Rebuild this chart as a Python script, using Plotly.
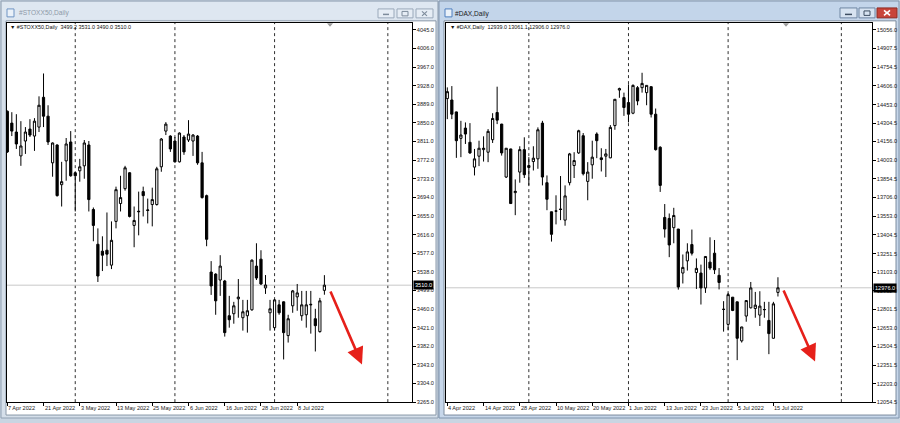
import plotly.graph_objects as go

W, H = 900, 423

# ---------------- STOXX50 daily (left window) ----------------
stoxx_open = [3874.4, 3849.5, 3830.8, 3780.8, 3812.0, 3837.0, 3822.4, 3841.2, 3903.6, 3864.0,
              3766.3, 3803.7, 3720.5, 3770.4, 3810.0, 3745.5, 3749.6, 3760.0, 3803.7, 3668.5,
              3595.7, 3581.2, 3583.2, 3552.0, 3643.6, 3681.0, 3712.2, 3745.5, 3635.2, 3665.0,
              3706.0, 3666.4, 3678.9, 3678.9, 3758.0, 3832.8, 3822.4, 3812.0, 3768.4, 3820.4,
              3814.1, 3812.0, 3822.4, 3766.3, 3697.6, 3537.5, 3533.2, 3520.8, 3518.8, 3446.0,
              3450.2, 3481.4, 3441.8, 3446.0, 3458.4, 3550.0, 3564.5, 3504.2, 3452.2, 3421.0,
              3468.8, 3475.1, 3404.4, 3466.8, 3485.5, 3446.0, 3448.0, 3470.0, 3439.7, 3412.7,
              3499.2]
stoxx_high = [3876.0, 3872.4, 3868.2, 3853.6, 3841.2, 3857.8, 3859.9, 3905.6, 3953.5, 3886.9,
              3809.0, 3805.0, 3768.4, 3818.3, 3832.8, 3747.0, 3774.6, 3814.1, 3812.0, 3672.7,
              3629.0, 3612.4, 3662.3, 3643.6, 3716.4, 3739.2, 3760.0, 3747.0, 3674.8, 3706.0,
              3716.4, 3691.4, 3714.3, 3758.0, 3818.3, 3851.6, 3824.0, 3820.4, 3830.0, 3824.5,
              3855.7, 3826.6, 3824.5, 3789.2, 3699.7, 3560.4, 3535.0, 3572.8, 3521.0, 3487.6,
              3475.1, 3522.9, 3479.2, 3479.2, 3564.0, 3597.8, 3583.2, 3531.2, 3479.2, 3481.0,
              3479.2, 3476.0, 3448.0, 3500.0, 3512.5, 3498.0, 3498.0, 3498.0, 3460.5, 3483.4,
              3531.0]
stoxx_low = [3787.0, 3822.4, 3795.4, 3760.0, 3785.0, 3820.4, 3791.3, 3830.8, 3841.2, 3803.7,
             3737.2, 3695.6, 3674.8, 3728.8, 3737.2, 3664.4, 3726.8, 3733.0, 3664.4, 3602.0,
             3516.7, 3539.6, 3550.0, 3543.7, 3629.0, 3664.4, 3708.0, 3651.9, 3589.5, 3614.4,
             3654.0, 3639.4, 3633.2, 3676.8, 3747.6, 3824.5, 3789.2, 3767.0, 3767.0, 3783.0,
             3810.0, 3780.8, 3762.2, 3691.4, 3591.6, 3489.6, 3448.0, 3487.6, 3402.3, 3421.0,
             3429.3, 3441.8, 3414.8, 3410.6, 3456.4, 3520.8, 3510.4, 3491.7, 3414.8, 3414.8,
             3448.0, 3354.4, 3389.8, 3452.2, 3456.4, 3435.6, 3421.0, 3408.5, 3371.1, 3410.6,
             3490.0]
stoxx_close = [3789.2, 3832.8, 3805.8, 3801.6, 3830.8, 3824.5, 3853.6, 3886.9, 3864.0, 3810.0,
               3807.9, 3697.6, 3726.8, 3805.8, 3739.2, 3739.2, 3758.0, 3807.9, 3689.3, 3635.2,
               3529.2, 3572.8, 3575.0, 3604.0, 3710.1, 3693.5, 3755.9, 3654.0, 3645.6, 3664.0,
               3697.6, 3667.5, 3689.3, 3753.8, 3816.2, 3847.4, 3795.4, 3768.4, 3828.7, 3789.2,
               3826.6, 3824.5, 3766.3, 3693.5, 3606.1, 3508.4, 3477.2, 3550.0, 3410.6, 3437.6,
               3466.8, 3485.0, 3454.3, 3456.4, 3562.4, 3525.0, 3512.5, 3510.4, 3460.5, 3479.2,
               3452.2, 3410.6, 3439.7, 3498.0, 3493.8, 3468.8, 3468.8, 3469.0, 3425.2, 3477.2,
               3510.0]
stoxx_date_labels = ["7 Apr 2022", "21 Apr 2022", "3 May 2022", "13 May 2022", "25 May 2022",
                     "6 Jun 2022", "16 Jun 2022", "28 Jun 2022", "8 Jul 2022"]
stoxx_date_idx = [0, 8, 16, 24, 32, 40, 48, 56, 64]
stoxx_price_ticks = [4045.0, 4006.0, 3967.0, 3928.0, 3889.0, 3850.0, 3811.0, 3772.0, 3733.0, 3694.0,
                     3655.0, 3616.0, 3577.0, 3538.0, 3499.0, 3460.0, 3421.0, 3382.0, 3343.0, 3304.0,
                     3265.0]
stoxx_separators = [15, 37, 59, 84]
stoxx_yrange = [3265.0, 4060.2]
stoxx_xrange = [-0.13, 89.27]
stoxx_arrow = [71.2, 3500.0, 78.3, 3344.0]   # tail x, tail y, head x, head y

# ---------------- DAX daily (right window) ----------------
dax_open = [14501.3, 14490.1, 14394.0, 14181.1, 14263.6, 14149.1, 13949.0, 14037.1, 14089.9, 14069.1,
            14169.9, 14389.2, 14295.6, 13869.0, 14095.5, 13743.3, 13909.0, 14089.9, 13945.8, 13993.8,
            14015.5, 14303.6, 13823.4, 13588.8, 13596.0, 13611.0, 13521.6, 13823.4, 13961.8, 14063.5,
            14202.0, 13833.8, 13967.4, 14215.6, 14023.5, 14037.1, 14023.5, 14283.6, 14570.1, 14509.3,
            14469.3, 14383.6, 14589.3, 14589.3, 14549.3, 14597.4, 14375.6, 14109.1, 13543.2, 13535.2,
            13460.8, 13449.6, 13095.0, 13193.4, 13324.7, 13099.0, 13095.0, 12974.9, 13183.0, 13255.1,
            13076.6, 12801.3, 12681.2, 12900.5, 12862.9, 12548.3, 12748.4, 12814.9, 12809.3, 12756.4,
            12801.3, 12713.2, 12569.2, 12939.0]
dax_high = [14591.7, 14602.2, 14396.0, 14322.0, 14309.2, 14303.6, 14095.5, 14161.9, 14197.2, 14255.6,
            14383.6, 14597.4, 14298.0, 14103.0, 14097.0, 13849.8, 14117.1, 14189.2, 14029.1, 14117.1,
            14269.2, 14322.0, 13881.8, 13590.0, 13721.7, 13877.0, 13801.7, 14063.5, 14069.1, 14250.0,
            14223.6, 13989.0, 14161.9, 14229.2, 14101.1, 14095.5, 14287.6, 14497.0, 14589.3, 14549.3,
            14615.8, 14615.8, 14602.2, 14709.4, 14609.0, 14599.0, 14421.3, 14117.1, 13651.3, 13575.2,
            13620.9, 13451.0, 13244.7, 13335.1, 13445.6, 13212.7, 13163.0, 13230.0, 13383.1, 13361.5,
            13135.0, 12868.5, 12934.9, 12902.0, 12864.0, 12662.0, 12875.0, 13023.0, 12942.9, 12948.5,
            12862.9, 12862.9, 12862.9, 13061.1]
dax_low = [14335.6, 14335.6, 14023.5, 14029.1, 14135.5, 14055.5, 13881.8, 13957.0, 13993.8, 13989.0,
           14143.5, 14295.6, 14041.9, 13861.0, 13653.0, 13561.6, 13823.4, 13861.0, 13801.7, 13921.8,
           13935.4, 13801.7, 13601.7, 13348.7, 13487.2, 13521.6, 13476.8, 13801.7, 13861.0, 14055.5,
           13881.8, 13681.7, 13855.4, 14021.1, 13913.8, 13869.0, 14021.1, 14250.0, 14507.7, 14362.0,
           14309.2, 14375.6, 14447.7, 14549.3, 14447.7, 14349.2, 14081.9, 13748.9, 13380.7, 13223.1,
           13335.1, 12961.3, 13011.0, 13115.0, 13236.7, 12966.9, 12841.3, 12934.9, 13119.0, 13087.0,
           12963.0, 12622.8, 12633.1, 12788.0, 12393.0, 12534.7, 12702.8, 12809.3, 12734.8, 12668.4,
           12734.8, 12441.1, 12567.0, 12906.0]
dax_close = [14557.3, 14375.6, 14161.9, 14207.6, 14215.6, 14063.5, 14015.5, 14101.1, 14101.1, 14237.2,
             14341.2, 14327.6, 14063.5, 14101.1, 13655.3, 13753.7, 14089.9, 13887.4, 13961.8, 14021.1,
             14250.0, 13869.0, 13689.7, 13407.2, 13594.0, 13608.0, 13716.9, 14055.5, 14001.9, 14242.0,
             13895.4, 13909.0, 14029.1, 14161.9, 14009.9, 14055.5, 14269.2, 14495.7, 14581.3, 14429.3,
             14375.6, 14607.8, 14482.1, 14623.8, 14607.8, 14375.6, 14089.9, 13801.7, 13449.6, 13321.5,
             13559.2, 12982.9, 13140.6, 13265.5, 13255.1, 13132.6, 12974.9, 13228.7, 13135.0, 13121.4,
             13019.0, 12803.0, 12921.3, 12793.2, 12569.2, 12660.4, 12873.3, 12974.9, 12836.5, 12828.5,
             12800.0, 12606.8, 12846.9, 12976.0]
dax_date_labels = ["4 Apr 2022", "14 Apr 2022", "28 Apr 2022", "10 May 2022", "20 May 2022",
                   "1 Jun 2022", "13 Jun 2022", "23 Jun 2022", "5 Jul 2022", "15 Jul 2022"]
dax_date_idx = [0, 8, 16, 24, 32, 40, 48, 56, 64, 72]
dax_price_ticks = [15056.0, 14907.5, 14754.5, 14606.0, 14453.0, 14304.5, 14156.0, 14003.0, 13854.5,
                   13706.0, 13553.0, 13404.5, 13251.5, 13103.0, 12952.0, 12801.5, 12653.0, 12504.5,
                   12351.5, 12203.0, 12054.5]
dax_separators = [18, 40, 62, 87]
dax_yrange = [12054.5, 15114.4]
dax_xrange = [-0.29, 93.7]
dax_arrow = [74.1, 12967.0, 81.2, 12382.0]

# ---------------- layout geometry (pixels) ----------------
FONT = "Liberation Sans"
LEFT_PLOT = (6.7, 411.7)
RIGHT_PLOT = (446.0, 871.7)
PLOT_TOP, PLOT_BOT = 22.7, 405.0


def pxx(x):
    return x / W


def pxy(y):
    return 1 - y / H


def rect(x0, y0, x1, y1, fill=None, line=None, lw=1, layer="below"):
    return dict(type="rect", xref="paper", yref="paper",
                x0=pxx(x0), x1=pxx(x1), y0=pxy(y1), y1=pxy(y0),
                fillcolor=fill if fill else "rgba(0,0,0,0)",
                line=dict(color=line if line else "rgba(0,0,0,0)", width=lw if line else 0),
                layer=layer)


def seg(x0, y0, x1, y1, color, lw=1, layer="above"):
    return dict(type="line", xref="paper", yref="paper",
                x0=pxx(x0), x1=pxx(x1), y0=pxy(y0), y1=pxy(y1),
                line=dict(color=color, width=lw), layer=layer)


fig = go.Figure()

candle_style = dict(
    increasing=dict(line=dict(color="black", width=1), fillcolor="white"),
    decreasing=dict(line=dict(color="black", width=1), fillcolor="black"),
    whiskerwidth=0, hoverinfo="skip", showlegend=False,
)
fig.add_trace(go.Candlestick(x=list(range(len(stoxx_open))), open=stoxx_open, high=stoxx_high,
                             low=stoxx_low, close=stoxx_close, xaxis="x", yaxis="y", **candle_style))
fig.add_trace(go.Candlestick(x=list(range(len(dax_open))), open=dax_open, high=dax_high,
                             low=dax_low, close=dax_close, xaxis="x2", yaxis="y2", **candle_style))

ydom = [pxy(PLOT_BOT), pxy(PLOT_TOP)]
common_x = dict(showline=True, mirror=True, linecolor="black", linewidth=1, showgrid=False,
                zeroline=False, ticks="outside", ticklen=3, tickcolor="black", tickwidth=1,
                showticklabels=False, rangeslider=dict(visible=False), fixedrange=True)
common_y = dict(showline=True, mirror=True, linecolor="black", linewidth=1, showgrid=False,
                zeroline=False, side="right", ticks="outside", ticklen=3, tickcolor="black",
                tickwidth=1, tickfont=dict(family=FONT, size=5.6, color="#1a1a1a"), fixedrange=True)

fig.update_layout(
    xaxis=dict(domain=[pxx(LEFT_PLOT[0]), pxx(LEFT_PLOT[1])], range=stoxx_xrange, anchor="y",
               tickvals=stoxx_date_idx, **common_x),
    yaxis=dict(domain=ydom, range=stoxx_yrange, anchor="x", tickvals=stoxx_price_ticks,
               ticktext=[f"{v:.1f}" for v in stoxx_price_ticks], **common_y),
    xaxis2=dict(domain=[pxx(RIGHT_PLOT[0]), pxx(RIGHT_PLOT[1])], range=dax_xrange, anchor="y2",
                tickvals=dax_date_idx, **common_x),
    yaxis2=dict(domain=ydom, range=dax_yrange, anchor="x2", tickvals=dax_price_ticks,
                ticktext=[f"{v:.1f}" for v in dax_price_ticks], **common_y),
)

shapes = []
# workspace + window frames
shapes.append(rect(0, 0, 900, 423, fill="#C9D5E2"))
shapes.append(rect(1, 1, 438, 421, fill="#D5DFEA", line="#8F9FB1"))
shapes.append(rect(439, 1, 899, 421, fill="#C7D7EA", line="#7E93AC"))
# title bars
shapes.append(rect(2, 2, 437, 20, fill="#DEE7F1"))
shapes.append(rect(440, 2, 898, 20, fill="#C3D5EA"))
# white chart areas
shapes.append(rect(6, 21, 436, 418, fill="white", line="#8A98A8"))
shapes.append(rect(444, 21, 896, 418, fill="white", line="#7C8C9E"))
# window icons
shapes.append(rect(7, 9, 14, 17, fill="#EAF1F9", line="#6F94C4"))
shapes.append(rect(445, 9, 452, 17, fill="#EAF1F9", line="#4E7FBF"))
# title buttons left (inactive)
for (a, b) in [(378, 394), (397, 413), (416, 433)]:
    shapes.append(rect(a, 9, b, 18, fill="#E6EDF5", line="#9AA9BA", layer="above"))
shapes.append(seg(383, 14.5, 389, 14.5, "#7D8B9B", 1.5))
shapes.append(rect(402, 11.5, 408, 16, line="#7D8B9B", layer="above"))
shapes.append(seg(422, 11.5, 427, 16, "#7D8B9B", 1.2))
shapes.append(seg(422, 16, 427, 11.5, "#7D8B9B", 1.2))
# title buttons right (active)
shapes.append(rect(840, 8, 857, 18, fill="#D7E3F1", line="#6F86A3", layer="above"))
shapes.append(rect(859, 8, 875, 18, fill="#D7E3F1", line="#6F86A3", layer="above"))
shapes.append(rect(877, 8, 897, 18, fill="#C8443A", line="#8E2C25", layer="above"))
shapes.append(seg(845, 14.5, 852, 14.5, "#3E4E62", 1.5))
shapes.append(rect(864, 11, 870, 15.5, line="#3E4E62", layer="above"))
shapes.append(seg(884, 10.5, 890, 15.5, "white", 1.6))
shapes.append(seg(884, 15.5, 890, 10.5, "white", 1.6))

# month separators (dotted verticals) and current price lines
for xa, ya, seps, last in [("x", "y", stoxx_separators, stoxx_close[-1]),
                           ("x2", "y2", dax_separators, dax_close[-1])]:
    for s in seps:
        shapes.append(dict(type="line", xref=xa, yref=f"{ya} domain", x0=s, x1=s, y0=0, y1=1,
                           line=dict(color="#303030", width=1, dash="dot"), layer="below"))
    shapes.append(dict(type="line", xref=f"{xa} domain", yref=ya, x0=0, x1=1, y0=last, y1=last,
                       line=dict(color="#C8C8C8", width=1), layer="below"))

# chart-shift markers at top
for cx in (330, 786):
    shapes.append(dict(type="path", xref="paper", yref="paper",
                       path=f"M {pxx(cx-3)},{pxy(23.5)} L {pxx(cx+3)},{pxy(23.5)} L {pxx(cx)},{pxy(27)} Z",
                       fillcolor="#9A9A9A", line=dict(width=0), layer="above"))

fig.update_layout(shapes=shapes)

ann = []
# window titles
ann.append(dict(x=pxx(17), y=pxy(13.3), xref="paper", yref="paper", xanchor="left", yanchor="middle",
                text="#STOXX50,Daily", showarrow=False, font=dict(family=FONT, size=6.6, color="#8D99A7")))
ann.append(dict(x=pxx(453), y=pxy(13.8), xref="paper", yref="paper", xanchor="left", yanchor="middle",
                text="#DAX,Daily", showarrow=False, font=dict(family=FONT, size=6.6, color="#1A1A1A")))
# info lines
ann.append(dict(x=pxx(8), y=pxy(27.5), xref="paper", yref="paper", xanchor="left", yanchor="middle",
                text="▼ #STOXX50,Daily  " + " ".join(f"{v:.1f}" for v in
                     (stoxx_open[-1], stoxx_high[-1], stoxx_low[-1], stoxx_close[-1])),
                showarrow=False, font=dict(family=FONT, size=5.4, color="#111")))
ann.append(dict(x=pxx(447.5), y=pxy(27.5), xref="paper", yref="paper", xanchor="left", yanchor="middle",
                text="▼ #DAX,Daily  " + " ".join(f"{v:.1f}" for v in
                     (dax_open[-1], dax_high[-1], dax_low[-1], dax_close[-1])),
                showarrow=False, font=dict(family=FONT, size=5.4, color="#111")))
# date labels
for xa, labels, idx in [("x", stoxx_date_labels, stoxx_date_idx), ("x2", dax_date_labels, dax_date_idx)]:
    for lab, i in zip(labels, idx):
        ann.append(dict(x=i, y=pxy(410.8), xref=xa, yref="paper", xanchor="left", yanchor="middle",
                        xshift=-1, text=lab, showarrow=False,
                        font=dict(family=FONT, size=5.6, color="#1a1a1a")))
# current price tags
ann.append(dict(x=pxx(LEFT_PLOT[1] + 0.8), y=stoxx_close[-1], xref="paper", yref="y", xanchor="left",
                yanchor="middle", text=f"{stoxx_close[-1]:.1f}", showarrow=False, bgcolor="black",
                borderpad=1, font=dict(family=FONT, size=5.6, color="white")))
ann.append(dict(x=pxx(RIGHT_PLOT[1] + 0.8), y=dax_close[-1], xref="paper", yref="y2", xanchor="left",
                yanchor="middle", text=f"{dax_close[-1]:.1f}", showarrow=False, bgcolor="black",
                borderpad=1, font=dict(family=FONT, size=5.6, color="white")))
# red arrows
for xa, ya, a in [("x", "y", stoxx_arrow), ("x2", "y2", dax_arrow)]:
    ann.append(dict(x=a[2], y=a[3], ax=a[0], ay=a[1], xref=xa, yref=ya, axref=xa, ayref=ya,
                    text="", showarrow=True, arrowhead=2, arrowsize=1.3, arrowwidth=2.6,
                    arrowcolor="#E6201A"))
fig.update_layout(annotations=ann)

fig.update_layout(width=W, height=H, margin=dict(l=0, r=0, t=0, b=0), autosize=False,
                  paper_bgcolor="#C9D5E2", plot_bgcolor="white", showlegend=False,
                  hovermode=False)

fig.write_html("out.html", config=dict(displayModeBar=False, staticPlot=True),
               post_script="document.body.style.margin='0';document.body.style.overflow='hidden';")
